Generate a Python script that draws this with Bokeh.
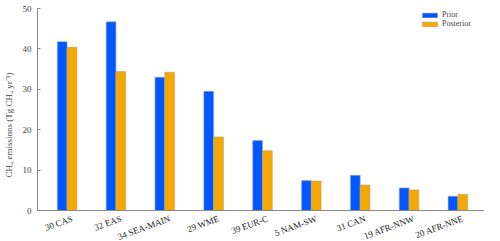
from bokeh.plotting import figure
from bokeh.models import ColumnDataSource, FixedTicker, Legend, LegendItem, Span
from bokeh.core.properties import value
from bokeh.transform import dodge
from bokeh.embed import file_html
from bokeh.resources import INLINE

regions = ["30 CAS", "32 EAS", "34 SEA-MAIN", "29 WME", "39 EUR-C", "5 NAM-SW", "31 CAN", "19 AFR-NNW", "20 AFR-NNE"]
prior = [41.8, 46.7, 33.0, 29.5, 17.3, 7.4, 8.7, 5.6, 3.5]
posterior = [40.4, 34.4, 34.2, 18.2, 14.8, 7.3, 6.3, 5.1, 4.0]
y_ticks = [0, 10, 20, 30, 40, 50]

idx = list(range(len(regions)))
src = ColumnDataSource(dict(x=idx, prior=prior, posterior=posterior,
                            label=regions, zero=[0] * len(regions)))

FONT = "Liberation Serif"
BLUE = "#0057ff"
ORANGE = "#f5a800"

p = figure(width=484, height=241, output_backend="svg", toolbar_location=None,
           x_range=(-0.606, 8.545), y_range=(-7.67, 50),
           min_border_left=31, min_border_right=0, min_border_top=8, min_border_bottom=0)
p.outline_line_color = None
p.grid.grid_line_color = None

r1 = p.vbar(x=dodge("x", -0.1), top="prior", width=0.2, source=src,
            fill_color=BLUE, line_color="#9aa6bf", line_width=0.6)
r2 = p.vbar(x=dodge("x", 0.1), top="posterior", width=0.2, source=src,
            fill_color=ORANGE, line_color="#b8a57a", line_width=0.6)

p.xaxis.visible = False
p.add_layout(Span(location=0, dimension="width", line_color="#888888", line_width=1.2))

p.text(x=dodge("x", 0.07), y="zero", text="label", source=src,
       angle=value(20), angle_units="deg", text_align="right", text_baseline="top",
       y_offset=3, text_font=value(FONT), text_font_size=value("9px"),
       text_color="#222222")

p.yaxis.ticker = FixedTicker(ticks=y_ticks)
p.yaxis.bounds = (0, 50)
p.yaxis.axis_line_color = "#888888"
p.yaxis.major_tick_line_color = "#888888"
p.yaxis.major_tick_in = 3
p.yaxis.major_tick_out = 0
p.yaxis.minor_tick_line_color = None
p.yaxis.major_label_text_font = FONT
p.yaxis.major_label_text_font_size = "9px"
p.yaxis.major_label_standoff = 6
p.yaxis.axis_label = "CH₄ emissions (Tg CH₄ yr⁻¹)"
p.yaxis.axis_label_text_font = FONT
p.yaxis.axis_label_text_font_size = "9px"
p.yaxis.axis_label_text_font_style = "normal"
p.yaxis.axis_label_standoff = 6

legend = Legend(items=[LegendItem(label="Prior", renderers=[r1]),
                       LegendItem(label="Posterior", renderers=[r2])],
                location=(383, 213), padding=0, spacing=0, margin=0,
                glyph_width=19, glyph_height=6, label_height=8,
                label_text_font=FONT, label_text_font_size="8px",
                label_standoff=3, border_line_color=None, background_fill_alpha=0)
p.add_layout(legend)

open("out.html", "w").write(file_html(p, INLINE))
